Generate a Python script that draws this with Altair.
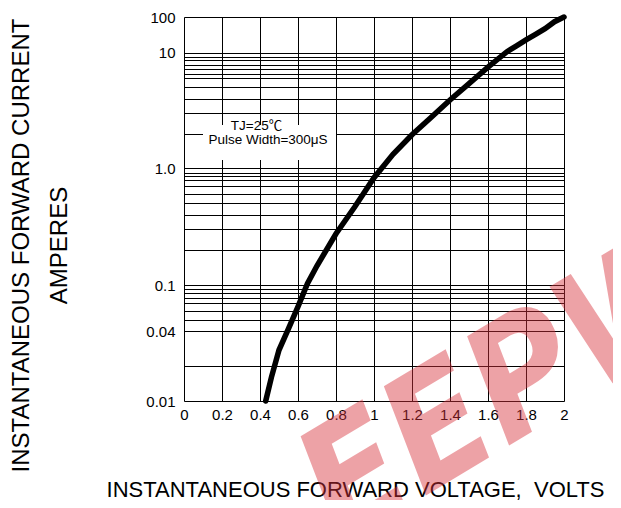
import altair as alt
import pandas as pd

# Curve
voltage = [0.43, 0.46, 0.50, 0.55, 0.60, 0.65, 0.70, 0.80, 0.90, 1.00, 1.10, 1.20,
           1.30, 1.40, 1.50, 1.60, 1.70, 1.75, 1.80, 1.85, 1.90, 1.95, 2.00]
current = [0.010, 0.016, 0.0275, 0.042, 0.065, 0.103, 0.146, 0.275, 0.47, 0.83, 1.32, 1.95,
           2.75, 3.9, 5.4, 7.5, 10.7, 15.5, 22.8, 32.6, 47.0, 74.0, 100.0]

# Axes
x_ticks = [0, 0.2, 0.4, 0.6, 0.8, 1, 1.2, 1.4, 1.6, 1.8, 2]
y_grid = [0.01, 0.02, 0.04, 0.05, 0.06, 0.07, 0.078, 0.085, 0.092,
          0.1, 0.2, 0.3, 0.4, 0.5, 0.6, 0.7, 0.8, 0.86, 0.92,
          1, 2, 3, 4, 5, 6, 6.6, 7.2, 7.8, 8.6, 9.1, 10, 100]
y_labels = [0.01, 0.04, 0.1, 1, 10, 100]
y_decades = [0.01, 0.1, 1, 10, 100]

x_title = "INSTANTANEOUS FORWARD VOLTAGE,\u00a0 VOLTS"
y_title = ["INSTANTANEOUS FORWARD CURRENT", "AMPERES"]
note_lines = ["TJ=25℃", "Pulse Width=300μS"]
watermark = "EEPW"

W, H = 380, 384
FONT = "Liberation Sans"

df = pd.DataFrame({"v": voltage, "i": current})

xscale = alt.Scale(domain=[0, 2], nice=False)
yscale = alt.Scale(type="log", domain=y_decades, range=[384, 268, 151.3, 35.7, 0], nice=False)

label_test = "indexof([" + ",".join(str(v) for v in y_labels) + "], datum.value) >= 0"

x_axis = alt.Axis(values=x_ticks, format="~g", grid=True, gridColor="black", gridOpacity=1,
                  gridWidth=1, ticks=False, tickSize=0, domain=False, labelFlush=False,
                  labelOverlap=False, labelFont=FONT, labelFontSize=15, labelColor="black",
                  labelPadding=6, title=x_title, titleFont=FONT, titleFontSize=22,
                  titleFontWeight="normal", titleColor="black", titleX=171, titleY=95,
                  titleBaseline="alphabetic", titleAlign="center")
y_axis = alt.Axis(values=y_grid, grid=True, gridColor="black", gridOpacity=1, gridWidth=1,
                  ticks=False, tickSize=0, domain=False, labelFlush=False, labelOverlap=False,
                  labelExpr="datum.value == 1 ? '1.0' : (" + label_test + " ? format(datum.value, '~g') : '')",
                  labelFont=FONT, labelFontSize=15, labelColor="black", labelPadding=9,
                  labelBaseline="middle",
                  title=y_title, titleFont=FONT, titleFontSize=24, titleFontWeight="normal",
                  titleColor="black", titleAngle=270, titleX=-163, titleY=228,
                  titleAlign="center", titleBaseline="middle", titleLineHeight=38)

base = alt.Chart(df)

curve = base.mark_line(color="black", strokeWidth=5.5, strokeCap="round").encode(
    x=alt.X("v:Q", scale=xscale, axis=x_axis),
    y=alt.Y("i:Q", scale=yscale, axis=y_axis),
)

box = alt.Chart(pd.DataFrame({"a": [0]})).mark_rect(color="white", opacity=1).encode(
    x=alt.value(19), x2=alt.value(152), y=alt.value(108), y2=alt.value(143)
)

note1 = alt.Chart(pd.DataFrame({"t": [note_lines[0]]})).mark_text(
    font="Liberation Sans, Noto Sans CJK SC", fontSize=13.5, color="black",
    align="center", baseline="middle"
).encode(text="t:N", x=alt.value(72.5), y=alt.value(109))
note2 = alt.Chart(pd.DataFrame({"t": [note_lines[1]]})).mark_text(
    font=FONT, fontSize=13.5, color="black", align="center", baseline="middle"
).encode(text="t:N", x=alt.value(84), y=alt.value(123))

wm = alt.Chart(pd.DataFrame({"t": [watermark]})).mark_text(
    font="Liberation Sans Narrow, DejaVu Sans Condensed, Liberation Sans", fontSize=158,
    fontWeight="bold", fontStyle="italic", color="#d9323c", opacity=0.45,
    align="left", baseline="alphabetic", angle=329
).encode(text="t:N", x=alt.value(156), y=alt.value(530))

chart = alt.layer(box, curve, note1, note2, wm).properties(
    width=W, height=H,
    autosize=alt.AutoSizeParams(type="none"),
    padding={"left": 176, "top": 9, "right": 49, "bottom": 99},
).configure_view(stroke="black", strokeWidth=1.2).configure(background="white")

chart.save("out.html", embed_options={"renderer": "svg", "actions": False})
